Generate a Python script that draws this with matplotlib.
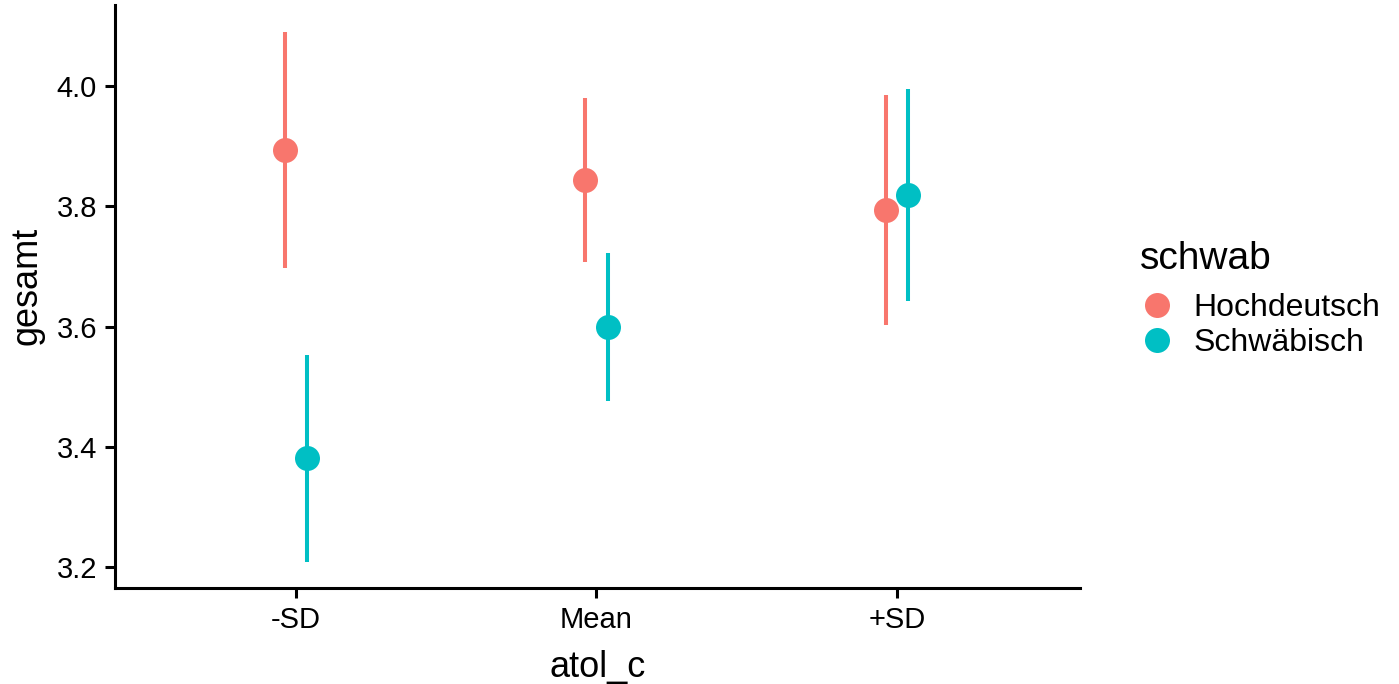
import matplotlib.pyplot as plt
from matplotlib.lines import Line2D

plt.rcParams['font.family'] = ['Liberation Sans', 'DejaVu Sans']

levels = ["-SD", "Mean", "+SD"]
groups = ["Hochdeutsch", "Schwäbisch"]
colors = ["#F8766D", "#00BFC4"]

# estimated means and interval bounds per level
est_hoch = [3.894, 3.844, 3.794]
low_hoch = [3.697, 3.707, 3.602]
high_hoch = [4.090, 3.980, 3.985]

est_schw = [3.381, 3.599, 3.819]
low_schw = [3.208, 3.476, 3.642]
high_schw = [3.553, 3.722, 3.995]

dodge = 0.037

fig = plt.figure(figsize=(13.99, 6.84), dpi=100)
ax = fig.add_axes([0.0822, 0.1404, 0.6898, 0.8523])

series = [(est_hoch, low_hoch, high_hoch), (est_schw, low_schw, high_schw)]
for g, (est, lo, hi) in enumerate(series):
    off = -dodge if g == 0 else dodge
    xs = [i + 1 + off for i in range(len(levels))]
    ax.vlines(xs, lo, hi, color=colors[g], lw=2.9, zorder=2)
    ax.plot(xs, est, "o", color=colors[g], ms=18, mew=0, zorder=3)

ax.set_xlim(0.398, 3.609)
ax.set_ylim(3.165, 4.135)
ax.set_xticks([1, 2, 3])
ax.set_xticklabels(levels)
ax.set_yticks([3.2, 3.4, 3.6, 3.8, 4.0])
ax.set_yticklabels(["3.2", "3.4", "3.6", "3.8", "4.0"])

for s in ["top", "right"]:
    ax.spines[s].set_visible(False)
for s in ["left", "bottom"]:
    ax.spines[s].set_linewidth(2.2)
ax.tick_params(width=2.2, length=7, labelsize=21, colors="black", pad=6)

ax.set_xlabel("atol_c", fontsize=26)
ax.set_ylabel("gesamt", fontsize=26)
ax.xaxis.set_label_coords(0.5, -0.106)
ax.yaxis.set_label_coords(-0.091, 0.518)
ax.yaxis.label.set_va("center")

handles = [Line2D([], [], marker="o", ls="", color=c, ms=18, mew=0) for c in colors]
leg = fig.legend(handles, groups, title="schwab", loc="upper left",
                 bbox_to_anchor=(0.806, 0.667), frameon=False, fontsize=23,
                 title_fontsize=28, handletextpad=0.6, labelspacing=0.15,
                 borderaxespad=0, handlelength=1.06)
leg._legend_box.align = "left"
leg._legend_box.sep = 12

fig.savefig("out.png", dpi=100)
